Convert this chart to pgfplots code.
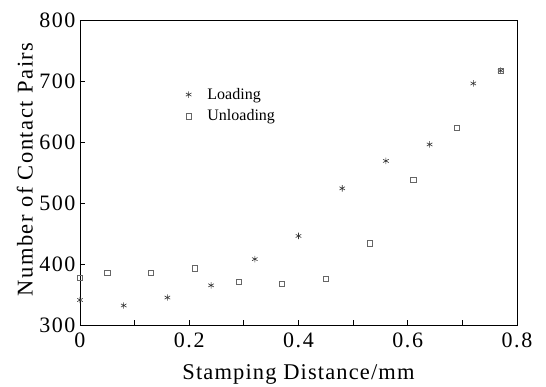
\documentclass[border=0pt]{standalone}
\usepackage{fontspec}
\setmainfont{Liberation Serif}
\newfontfamily\spaced[LetterSpace=7]{Liberation Serif}
\newfontfamily\spacedb[LetterSpace=5]{Liberation Serif}
\usepackage{pgfplots}
\pgfplotsset{compat=1.18}
\begin{document}
\begin{tikzpicture}
\begin{axis}[
  at={(0,0)}, anchor=south west,
  scale only axis, width=437pt, height=305pt,
  xmin=0, xmax=0.8, ymin=300, ymax=800,
  xtick={0,0.2,0.4,0.6,0.8},
  minor xtick={0.1,0.3,0.5,0.7},
  ytick={300,400,500,600,700,800},
  xticklabels={0,0.2,0.4,0.6,0.8},
  tick align=inside,
  xtick pos=bottom,
  ytick pos=left,
  major tick length=5pt, minor tick length=5pt,
  tick style={black, line width=0.8pt},
  axis line style={line width=0.8pt},
  /pgf/number format/assume math mode=true,
  tick label style={font=\spaced\fontsize{22}{24}\selectfont},
  xticklabel style={yshift=-4pt},
  yticklabel style={xshift=-1pt},
  xlabel={Stamping Distance/mm},
  ylabel={Number of Contact Pairs},
  label style={font=\spacedb\fontsize{22.5}{26}\selectfont},
  ylabel style={font=\spaced\fontsize{22.5}{26}\selectfont},
  xlabel style={at={(axis description cs:0.5,-0.162)}, anchor=center},
  ylabel style={at={(axis description cs:-0.126,0.51)}, anchor=center},
  legend style={draw=none, fill=none, at={(0.235,0.79)}, anchor=north west,
    font=\fontsize{16}{19}\selectfont, row sep=5pt},
  legend cell align=left,
]
\addplot[only marks, mark=asterisk, mark size=3.2pt, color=black!80, mark options={line width=0.6pt}]
coordinates {(0,341) (0.08,332) (0.16,345) (0.24,365) (0.32,408) (0.40,446) (0.48,524) (0.56,569) (0.64,596) (0.72,696) (0.77,717)};
\addlegendentry{\hspace{14pt}Loading}
\addplot[only marks, mark=square, mark size=2.6pt, color=black!60, mark options={line width=0.5pt}]
coordinates {(0,378) (0.05,386) (0.13,386) (0.21,393) (0.29,371) (0.37,367) (0.45,376) (0.53,434) (0.61,538) (0.69,623) (0.77,717)};
\addlegendentry{\hspace{14pt}Unloading}
\end{axis}
\pgfresetboundingbox
\path (-80pt,-62pt) rectangle (466pt,325pt);
\end{tikzpicture}
\end{document}
